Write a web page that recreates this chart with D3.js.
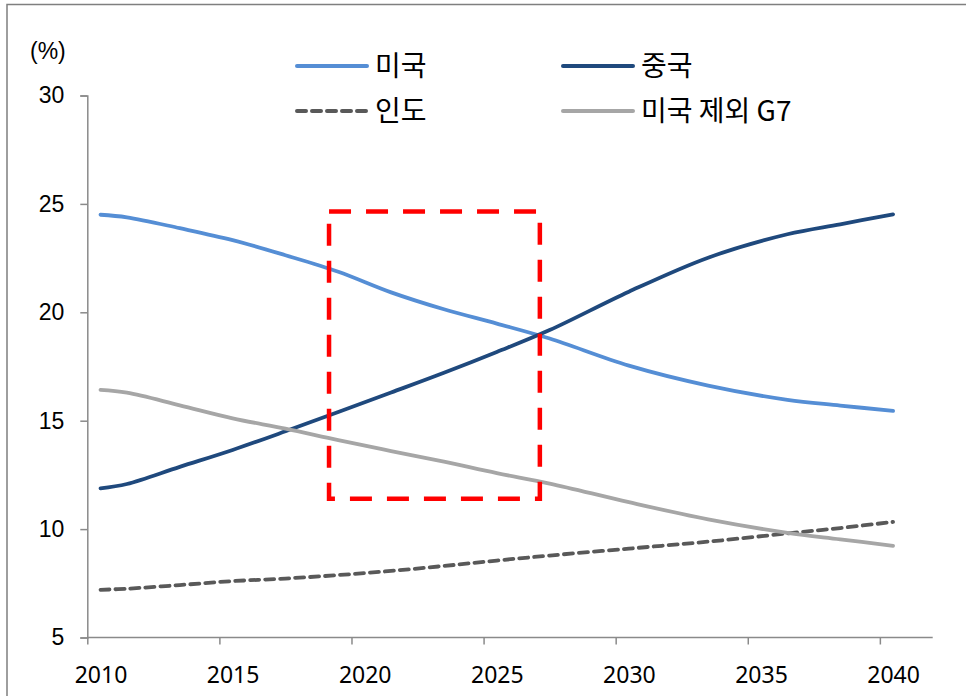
<!DOCTYPE html>
<html>
<head>
<meta charset="utf-8">
<script src="https://cdn.jsdelivr.net/npm/d3@7"></script>
<style>
  body { margin: 0; background: #fff; }
  svg { display: block; }
</style>
</head>
<body>
<svg id="chart" width="966" height="696"></svg>
<script>
// values (share of world GDP, %)
const years = [2010, 2011, 2013, 2015, 2017, 2019, 2021, 2023, 2025, 2027, 2030, 2033, 2036, 2038, 2040];
const usa   = [24.5, 24.38, 23.88, 23.33, 22.63, 21.87, 20.92, 20.14, 19.48, 18.79, 17.54, 16.62, 15.96, 15.7, 15.45];
const china = [11.88, 12.08, 12.87, 13.65, 14.51, 15.4, 16.3, 17.21, 18.17, 19.18, 20.95, 22.52, 23.6, 24.06, 24.52];
const india = [7.2, 7.25, 7.42, 7.6, 7.72, 7.88, 8.07, 8.3, 8.55, 8.78, 9.1, 9.42, 9.8, 10.05, 10.33];
const g7exUS = [16.42, 16.29, 15.71, 15.11, 14.63, 14.1, 13.6, 13.11, 12.58, 12.1, 11.24, 10.45, 9.83, 9.53, 9.23];

const yTicks = [5, 10, 15, 20, 25, 30];
const xLabels = [2010, 2015, 2020, 2025, 2030, 2035, 2040];

// highlighted period box
const boxYears = [2018.65, 2026.63];
const boxValues = [11.4, 24.65];

const series = [
  { name: "미국", values: usa, color: "#558ed5", dash: null },
  { name: "중국", values: china, color: "#1f497d", dash: null },
  { name: "인도", values: india, color: "#595959", dash: "9,6" },
  { name: "미국 제외 G7", values: g7exUS, color: "#a6a6a6", dash: null }
];

const svg = d3.select("#chart");

// outer frame
svg.append("rect")
  .attr("x", 7).attr("y", 4.5)
  .attr("width", 980).attr("height", 720)
  .attr("fill", "none")
  .attr("stroke", "#7f7f7f")
  .attr("stroke-width", 1.5);

// category axis: 2010..2041, ticks between categories
const x = d3.scaleLinear().domain([2009.5, 2041.5]).range([87.3, 932.7]);
const y = d3.scaleLinear().domain([5, 30]).range([637.5, 95.5]);

const axisColor = "#8a8a8a";

const yAxis = svg.append("g")
  .attr("transform", `translate(${x(2009.5)},0)`)
  .call(d3.axisLeft(y).tickValues(yTicks).tickSize(7).tickPadding(16));
yAxis.select(".domain").attr("stroke", axisColor).attr("stroke-width", 1.5);
yAxis.selectAll(".tick line").attr("stroke", axisColor).attr("stroke-width", 1.5);
yAxis.selectAll(".tick text")
  .attr("fill", "#000")
  .style("font-family", "'Liberation Sans', Arial, sans-serif")
  .style("font-size", "23px");

const xTickAxis = svg.append("g")
  .attr("transform", `translate(0,${y(5)})`)
  .call(d3.axisBottom(x)
    .tickValues(xLabels.map(d => d - 0.5))
    .tickSize(7)
    .tickFormat(""));
xTickAxis.select(".domain").attr("stroke", axisColor).attr("stroke-width", 1.5)
  .attr("d", `M${x(2009.5)},0H${x(2041.5)}`);
xTickAxis.selectAll(".tick line").attr("stroke", axisColor).attr("stroke-width", 1.5);

const xLabelAxis = svg.append("g")
  .attr("transform", `translate(0,${y(5)})`)
  .call(d3.axisBottom(x).tickValues(xLabels).tickSize(0).tickPadding(29).tickFormat(d3.format("d")));
xLabelAxis.select(".domain").remove();
xLabelAxis.selectAll(".tick text")
  .attr("fill", "#000")
  .style("font-family", "'Noto Sans', sans-serif")
  .style("font-size", "23px");

// unit label
svg.append("text")
  .attr("x", 30).attr("y", 58.5)
  .style("font-family", "'Liberation Sans', Arial, sans-serif")
  .style("font-size", "23px")
  .text("(%)");

// lines
const line = d3.line()
  .x((d, i) => x(years[i]))
  .y(d => y(d))
  .curve(d3.curveCatmullRom.alpha(0.5));

svg.append("g").selectAll("path")
  .data(series)
  .join("path")
  .attr("d", d => line(d.values))
  .attr("fill", "none")
  .attr("stroke", d => d.color)
  .attr("stroke-width", 3.8)
  .attr("stroke-linecap", "round")
  .attr("stroke-dasharray", d => d.dash);

// red dashed highlight box
svg.append("rect")
  .attr("x", x(boxYears[0]))
  .attr("y", y(boxValues[1]))
  .attr("width", x(boxYears[1]) - x(boxYears[0]))
  .attr("height", y(boxValues[0]) - y(boxValues[1]))
  .attr("fill", "none")
  .attr("stroke", "#ff0000")
  .attr("stroke-width", 4.5)
  .attr("stroke-dasharray", "22,15");

// legend, two columns
const legendPos = [
  { x: 297, y: 66 }, { x: 563, y: 66 },
  { x: 297, y: 111 }, { x: 563, y: 111 }
];
const legend = svg.append("g").selectAll("g")
  .data(series)
  .join("g")
  .attr("transform", (d, i) => `translate(${legendPos[i].x},${legendPos[i].y})`);

legend.append("line")
  .attr("x1", 0).attr("x2", 70)
  .attr("stroke", d => d.color)
  .attr("stroke-width", 4)
  .attr("stroke-linecap", "round")
  .attr("stroke-dasharray", d => d.dash);

legend.append("text")
  .attr("x", 78)
  .attr("dy", "0.36em")
  .style("font-family", "'Noto Sans CJK KR', sans-serif")
  .style("font-size", "28px")
  .attr("fill", "#000")
  .text(d => d.name);
</script>
</body>
</html>
